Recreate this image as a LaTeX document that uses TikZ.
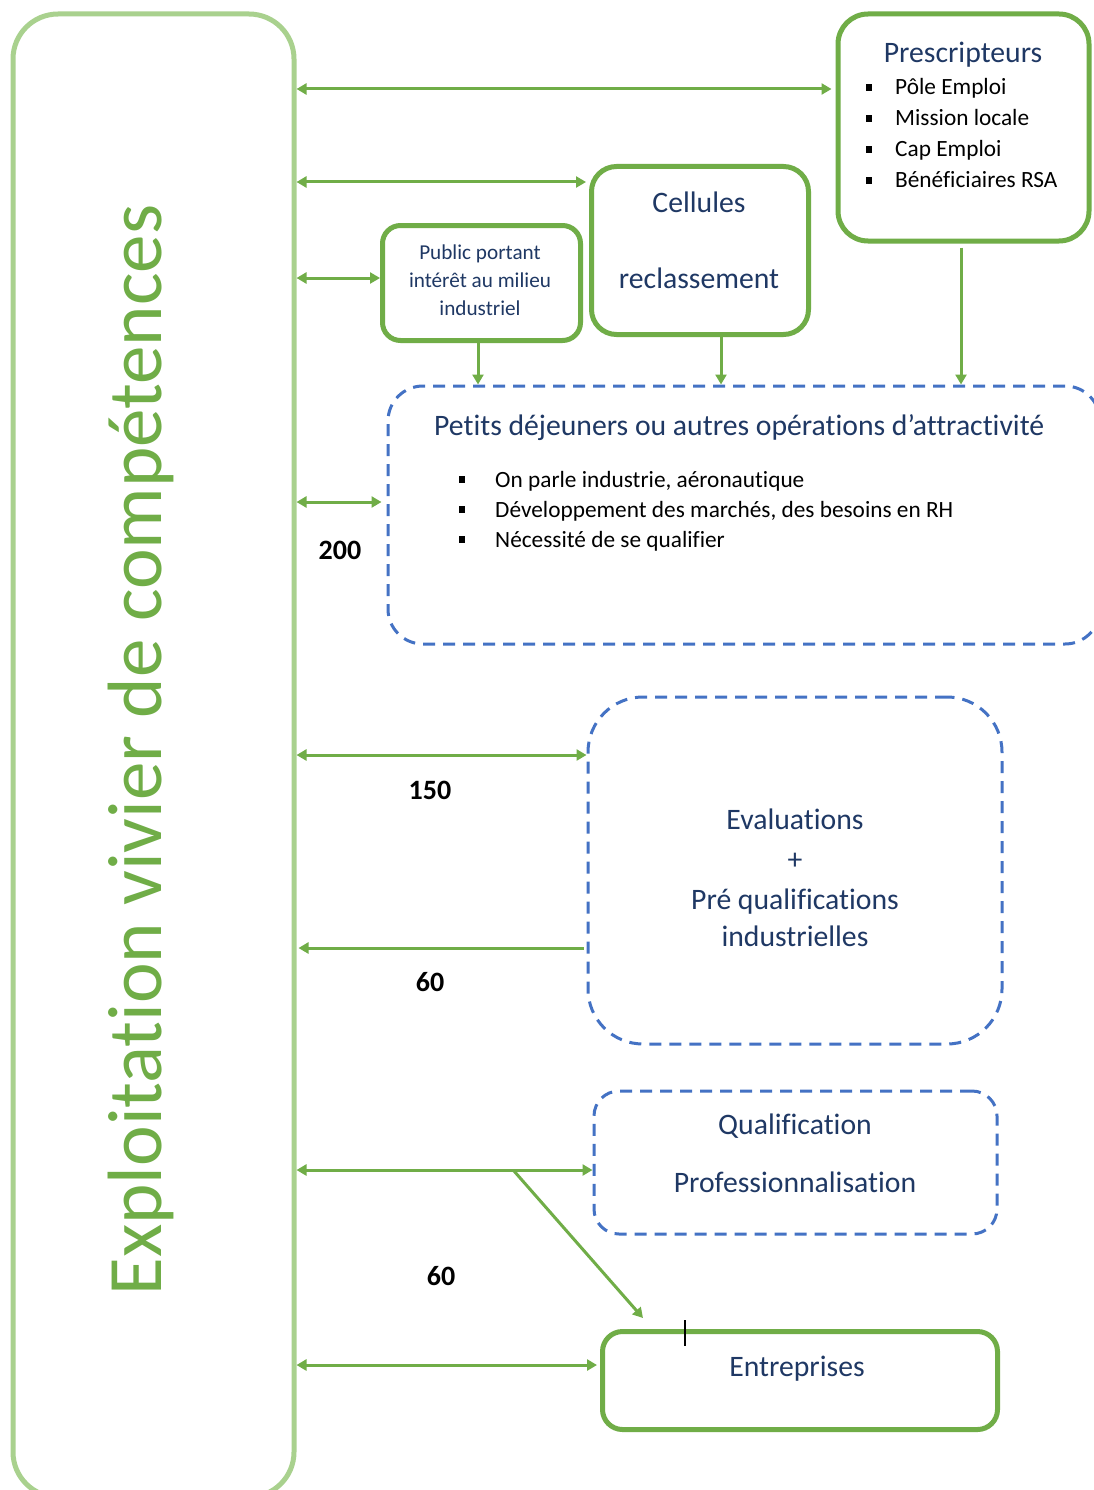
\documentclass[tikz,border=0pt]{standalone}
\usepackage{fontspec}
\setmainfont{Carlito}[Ligatures=NoCommon]
\usetikzlibrary{arrows.meta}
\definecolor{gline}{HTML}{70AD47}
\definecolor{lgreen}{HTML}{A9D18E}
\definecolor{dblue}{HTML}{4472C4}
\definecolor{navy}{HTML}{1F3864}
\newcommand{\bsqA}{\makebox[29pt][l]{\rule[4pt]{6pt}{7pt}}}
\newcommand{\bsqB}{\makebox[36pt][l]{\rule[4pt]{6pt}{7pt}}}
\begin{document}
\begin{tikzpicture}[x=1pt,y=-1pt,
  gbox/.style={draw=gline, line width=5pt, inner sep=0pt},
  dbox/.style={draw=dblue, line width=3pt, dash pattern=on 12pt off 8pt, inner sep=0pt},
  arr/.style={draw=gline, line width=3pt, -{Triangle[length=10pt,width=11pt]}},
  darr/.style={draw=gline, line width=3pt, {Triangle[length=10pt,width=11pt]}-{Triangle[length=10pt,width=11pt]}},
  ttl/.style={text=navy, font=\fontsize{29.7}{34}\selectfont, inner sep=0pt, anchor=base},
  pub/.style={text=navy, font=\fontsize{21.2}{25}\selectfont, inner sep=0pt, anchor=base},
  itm/.style={text=black, font=\fontsize{23.3}{27}\selectfont, inner sep=0pt, anchor=base west},
  num/.style={text=black, font=\fontsize{28}{32}\selectfont\bfseries, inner sep=0pt, anchor=base}
]
\clip (0,0) rectangle (1094,1490);
\fill[white] (0,0) rectangle (1094,1490);

% big box
\node[draw=lgreen, line width=5pt, rounded corners=45pt, inner sep=0pt,
      minimum width=281pt, minimum height=1483pt] (big) at (153.5,755.5) {};
\node[text=gline, font=\fontsize{77}{81}\selectfont, rotate=90, anchor=base, inner sep=0pt]
      (bigt) at (161,750) {Exploitation vivier de compétences};

% boxes
\node[gbox, rounded corners=30pt, minimum width=251pt, minimum height=227pt] (presc) at (963.5,127.5) {};
\node[gbox, rounded corners=25pt, minimum width=217pt, minimum height=168pt] (cell) at (700,250.5) {};
\node[gbox, rounded corners=18pt, minimum width=198pt, minimum height=115pt] (pubb) at (481.5,283) {};
\node[gbox, rounded corners=20pt, minimum width=395pt, minimum height=98pt] (entr) at (800,1380.5) {};
\node[dbox, rounded corners=35pt, minimum width=712pt, minimum height=258pt] (pdej) at (744,515) {};
\node[dbox, rounded corners=55pt, minimum width=414pt, minimum height=347pt] (eval) at (795,870.5) {};
\node[dbox, rounded corners=25pt, minimum width=403pt, minimum height=143pt] (qual) at (795.5,1162.5) {};

% texts
\node[ttl] (prt) at (963,63) {Prescripteurs};
\node[itm] (pr1) at (866,95) {\bsqA Pôle Emploi};
\node[itm] (pr2) at (866,126) {\bsqA Mission locale};
\node[itm] (pr3) at (866,157) {\bsqA Cap Emploi};
\node[itm] (pr4) at (866,188) {\bsqA Bénéficiaires RSA};

\node[ttl] (ce1) at (699,212) {Cellules};
\node[ttl] (ce2) at (699,288) {reclassement};

\node[pub] (pu1) at (480,259) {Public portant};
\node[pub] (pu2) at (480,287) {intérêt au milieu};
\node[pub] (pu3) at (480,315) {industriel};

\node[ttl, anchor=base west] (pdt) at (434,435) {Petits déjeuners ou autres opérations d’attractivité};
\node[itm] (pd1) at (459,487) {\bsqB On parle industrie, aéronautique};
\node[itm] (pd2) at (459,517) {\bsqB Développement des marchés, des besoins en RH};
\node[itm] (pd3) at (459,547) {\bsqB Nécessité de se qualifier};

\node[ttl] (ev1) at (795,829) {Evaluations};
\node[ttl] (ev2) at (795,869) {+};
\node[ttl] (ev3) at (795,909) {Pré qualifications};
\node[ttl] (ev4) at (795,946) {industrielles};

\node[ttl] (qu1) at (795,1134) {Qualification};
\node[ttl] (qu2) at (795,1192) {Professionnalisation};

\node[ttl] (en1) at (797,1376) {Entreprises};

\node[num] (n200) at (340,559) {200};
\node[num] (n150) at (430,799) {150};
\node[num] (n60a) at (430,991) {60};
\node[num] (n60b) at (441,1285) {60};

% connector levels
\coordinate (y1) at (0,89);
\coordinate (y2) at (0,182);
\coordinate (y3) at (0,278);
\coordinate (y4) at (0,502);
\coordinate (y5) at (0,755);
\coordinate (y6) at (0,948);
\coordinate (y7) at (0,1170);
\coordinate (y8) at (0,1365);
\coordinate (xa) at (478,0);
\coordinate (xb) at (721,0);
\coordinate (xc) at (961,0);
\coordinate (split) at (514,1171);
\coordinate (dtip) at (643,1318);

\draw[darr, shorten >=4pt] (big.east |- y1) -- (presc.west |- y1);
\draw[darr, shorten >=3pt] (big.east |- y2) -- (cell.west |- y2);
\draw[darr] (big.east |- y3) -- (pubb.west |- y3);
\draw[darr, shorten >=5pt] (big.east |- y4) -- (pdej.west |- y4);
\draw[darr] (big.east |- y5) -- (eval.west |- y5);
\draw[arr, shorten <=3pt, shorten >=2pt] (eval.west |- y6) -- (big.east |- y6);
\draw[darr] (big.east |- y7) -- (qual.west |- y7);
\draw[darr, shorten >=3pt] (big.east |- y8) -- (entr.west |- y8);
\draw[arr] (split) -- (dtip);

\draw[arr] (pubb.south -| xa) -- (pdej.north -| xa);
\draw[arr] (cell.south -| xb) -- (pdej.north -| xb);
\draw[arr, shorten <=4pt] (presc.south -| xc) -- (pdej.north -| xc);

% cursor mark
\draw[black, line width=1.2pt] (685,1320) -- (685,1346);
\end{tikzpicture}
\end{document}
